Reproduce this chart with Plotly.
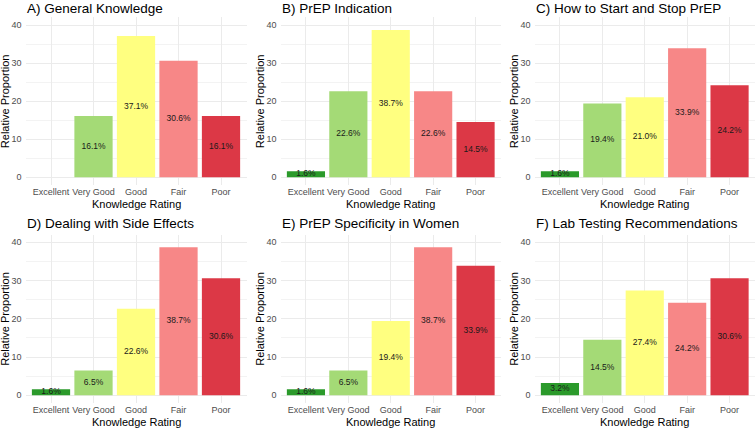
import plotly.graph_objects as go

categories = ["Excellent", "Very Good", "Good", "Fair", "Poor"]
panel_titles = [
    "A) General Knowledge",
    "B) PrEP Indication",
    "C) How to Start and Stop PrEP",
    "D) Dealing with Side Effects",
    "E) PrEP Specificity in Women",
    "F) Lab Testing Recommendations",
]
values_A = [0.0, 16.1, 37.1, 30.6, 16.1]
values_B = [1.6, 22.6, 38.7, 22.6, 14.5]
values_C = [1.6, 19.4, 21.0, 33.9, 24.2]
values_D = [1.6, 6.5, 22.6, 38.7, 30.6]
values_E = [1.6, 6.5, 19.4, 38.7, 33.9]
values_F = [3.2, 14.5, 27.4, 24.2, 30.6]
all_values = [values_A, values_B, values_C, values_D, values_E, values_F]
y_ticks = [0, 10, 20, 30, 40]

colors = ["#2b9a2b", "#a4da76", "#ffff80", "#f78787", "#dc3846"]

W, H = 755, 428
FONT = "Liberation Sans, Arial, Helvetica, sans-serif"

col_px = [(25.5, 246.5), (280.5, 501.0), (534.5, 755.0)]
row_px = [(17.4, 184.9), (234.65, 402.95)]
title_center_px = [8.0, 223.3]

def px_x(p):
    return p / W

def px_y(p):
    return 1 - p / H

fig = go.Figure()
annotations = []

for i, vals in enumerate(all_values):
    r, c = divmod(i, 3)
    n = i + 1
    xa = "x" if n == 1 else f"x{n}"
    ya = "y" if n == 1 else f"y{n}"
    fig.add_trace(go.Bar(
        x=categories, y=vals, marker=dict(color=colors, line=dict(width=0)),
        xaxis=xa, yaxis=ya, showlegend=False, hoverinfo="skip",
    ))
    labels = [f"{v:.1f}%" if v > 0 else "" for v in vals]
    fig.add_trace(go.Scatter(
        x=categories, y=[v / 2 for v in vals], text=labels, mode="text",
        textposition="middle center",
        textfont=dict(size=8.5, color="#1a1a1a", family=FONT),
        xaxis=xa, yaxis=ya, showlegend=False, hoverinfo="skip",
    ))
    x0, x1 = col_px[c]
    y0, y1 = row_px[r]
    axis_common_x = dict(
        domain=[px_x(x0), min(px_x(x1), 1.0)], anchor=ya,
        type="category", categoryorder="array", categoryarray=categories,
        range=[-0.6, 4.6], showgrid=True, gridcolor="#ebebeb", gridwidth=1,
        showline=False, zeroline=False, ticks="",
        tickfont=dict(size=9, color="#4d4d4d", family=FONT),
        fixedrange=True,
    )
    axis_common_y = dict(
        domain=[px_y(y1), px_y(y0)], anchor=xa,
        range=[-2, 42], tickvals=y_ticks, ticktext=[str(t) for t in y_ticks],
        showgrid=True, gridcolor="#ebebeb", gridwidth=1,
        minor=dict(tickvals=[5, 15, 25, 35], showgrid=True, gridcolor="#f3f3f3", gridwidth=0.6),
        showline=False, zeroline=False, ticks="",
        tickfont=dict(size=9, color="#4d4d4d", family=FONT),
        ticklabelstandoff=3,
        fixedrange=True,
    )
    fig.layout[("xaxis" if n == 1 else f"xaxis{n}")] = axis_common_x
    fig.layout[("yaxis" if n == 1 else f"yaxis{n}")] = axis_common_y

    # panel title
    annotations.append(dict(
        text=panel_titles[i], xref="paper", yref="paper",
        x=px_x(x0), y=px_y(title_center_px[r]), xanchor="left", yanchor="middle",
        borderpad=0,
        showarrow=False, font=dict(size=13.5, color="#000000", family=FONT),
    ))
    # x-axis title
    annotations.append(dict(
        text="Knowledge Rating", xref="paper", yref="paper",
        x=px_x((x0 + x1) / 2), y=px_y(y1 + 19), xanchor="center", yanchor="middle",
        showarrow=False, font=dict(size=11, color="#000000", family=FONT),
    ))
    # y-axis title
    annotations.append(dict(
        text="Relative Proportion", xref="paper", yref="paper",
        x=px_x(x0 - 20.5), y=px_y((y0 + y1) / 2), xanchor="center", yanchor="middle",
        textangle=-90,
        showarrow=False, font=dict(size=11, color="#000000", family=FONT),
    ))

fig.update_layout(
    width=W, height=H, margin=dict(l=0, r=0, t=0, b=0),
    paper_bgcolor="white", plot_bgcolor="white",
    bargap=0.1, annotations=annotations,
    font=dict(family=FONT),
)

fig.write_html("out.html")
